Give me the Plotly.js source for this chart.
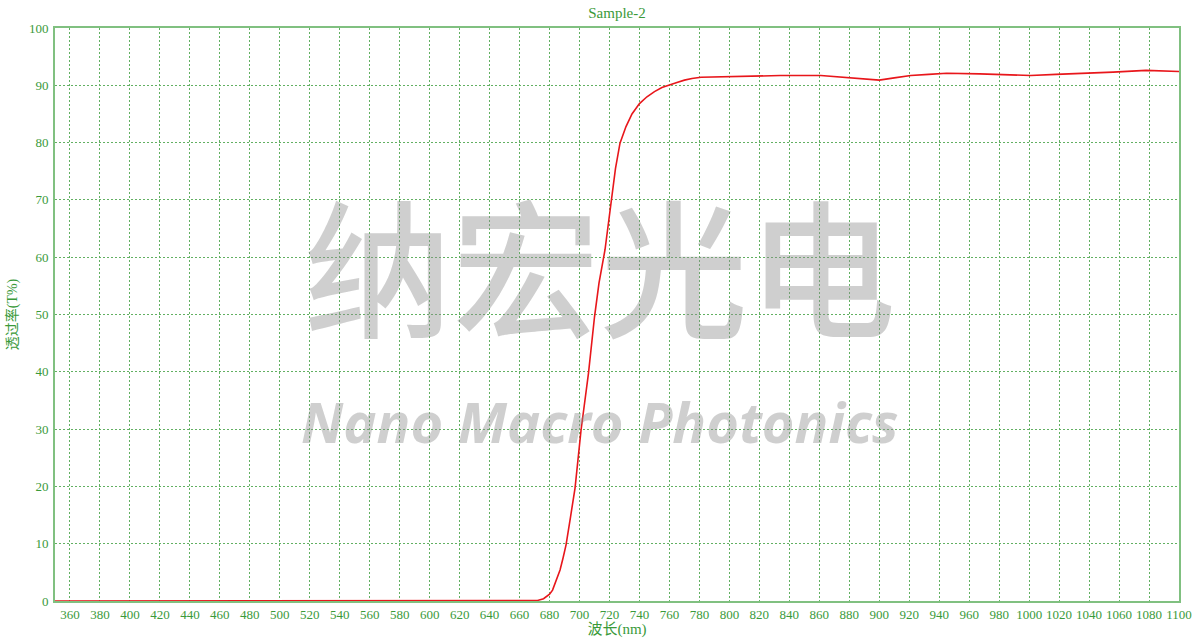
<!DOCTYPE html>
<html>
<head>
<meta charset="utf-8">
<script src="https://cdn.plot.ly/plotly-3.0.1.min.js"></script>
<style>html,body{margin:0;padding:0;background:#fff;}#chart{width:1200px;height:638px;}</style>
</head>
<body>
<div id="chart"></div>
<script>
const wavelength = [350, 400, 450, 500, 550, 600, 650, 668, 672, 676, 680, 682, 685, 687, 689, 691, 694, 697, 701, 706, 710, 713, 717, 721, 724, 727, 731, 735, 740, 745, 750, 755, 760, 765, 770, 775, 781, 795, 805, 820, 834, 861, 878, 890, 900, 910, 921, 933, 945, 967, 985, 1001, 1018, 1034, 1056, 1078, 1090, 1100];
const transmittance = [0, 0, 0, 0, 0, 0, 0, 0, 0.1, 0.4, 1.2, 1.9, 3.8, 5.4, 7.5, 9.8, 14.7, 19.7, 29.8, 39.8, 49.6, 55.5, 61.3, 70.0, 75.5, 79.9, 82.8, 85.0, 86.8, 88.0, 88.9, 89.6, 90.1, 90.5, 90.9, 91.2, 91.4, 91.5, 91.6, 91.65, 91.7, 91.7, 91.4, 91.1, 90.9, 91.3, 91.7, 91.9, 92.1, 92.0, 91.9, 91.7, 91.9, 92.05, 92.3, 92.6, 92.5, 92.4];

const xTicks = [360,380,400,420,440,460,480,500,520,540,560,580,600,620,640,660,680,700,720,740,760,780,800,820,840,860,880,900,920,940,960,980,1000,1020,1040,1060,1080,1100];
const yTicks = [0,10,20,30,40,50,60,70,80,90,100];

const chartTitle = 'Sample-2';
const xTitle = '波长(nm)';
const yTitle = '透过率(T%)';
const watermarkCN = '纳宏光电';
const watermarkEN = 'Nano Macro Photonics';

const green = '#3a9a3a';
const axisGreen = '#80c080';
const gridGreen = '#62b062';
const serif = '"Liberation Serif", "Times New Roman", "Noto Sans CJK SC", serif';
const wmColor = 'rgba(140,140,140,0.42)';

const trace = {
  x: wavelength,
  y: transmittance,
  type: 'scatter',
  mode: 'lines',
  line: {color: '#e8161b', width: 1.6},
  hoverinfo: 'skip'
};

const layout = {
  width: 1200,
  height: 638,
  margin: {l: 55, r: 21, t: 28, b: 37},
  paper_bgcolor: '#ffffff',
  plot_bgcolor: '#ffffff',
  showlegend: false,
  title: {text: chartTitle, x: 0.5, xref: 'paper', y: 0.988, yanchor: 'top', font: {family: serif, size: 15, color: green}},
  xaxis: {
    range: [350, 1100],
    tickvals: xTicks,
    ticktext: xTicks.map(String),
    showgrid: true,
    gridcolor: gridGreen,
    griddash: '2px,2px',
    gridwidth: 1,
    showline: true,
    linecolor: axisGreen,
    linewidth: 2,
    mirror: true,
    zeroline: false,
    ticks: '',
    tickfont: {family: serif, size: 13, color: green},
    title: {text: xTitle, standoff: 1, font: {family: serif, size: 15, color: green}}
  },
  yaxis: {
    range: [0, 100],
    tickvals: yTicks,
    ticktext: yTicks.map(String),
    showgrid: true,
    gridcolor: gridGreen,
    griddash: '2px,2px',
    gridwidth: 1,
    showline: true,
    linecolor: axisGreen,
    linewidth: 2,
    mirror: true,
    zeroline: false,
    ticks: '',
    ticklabelstandoff: 2,
    tickfont: {family: serif, size: 13, color: green},
    title: {text: yTitle, standoff: 8, font: {family: serif, size: 14, color: green}}
  },
  annotations: [
    {text: watermarkCN, xref: 'paper', yref: 'paper', x: 0.485, y: 0.592, yanchor: 'middle', showarrow: false,
     font: {family: '"Noto Sans CJK SC", sans-serif', size: 148, weight: 500, color: wmColor}},
    {text: '<i><b>' + watermarkEN + '</b></i>', xref: 'paper', yref: 'paper', x: 0.485, y: 0.244, yanchor: 'bottom', showarrow: false,
     font: {family: '"Open Sans", "DejaVu Sans", sans-serif', size: 56, color: wmColor}}
  ]
};

Plotly.newPlot('chart', [trace], layout, {displayModeBar: false, staticPlot: true});
</script>
</body>
</html>
